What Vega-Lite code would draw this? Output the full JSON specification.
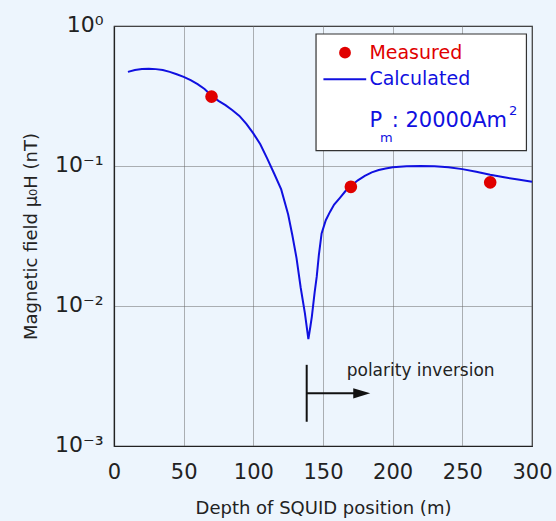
{
  "$schema": "https://vega.github.io/schema/vega-lite/v6.json",
  "width": 418,
  "height": 420,
  "autosize": "none",
  "padding": {"left": 114, "top": 26, "right": 24, "bottom": 75},
  "background": "#edf5fd",
  "config": {
    "font": "DejaVu Sans",
    "view": {"stroke": "#222", "strokeWidth": 1.2},
    "axis": {
      "domainColor": "#222",
      "domainWidth": 1.2,
      "gridColor": "#666",
      "gridDash": [1, 1],
      "gridWidth": 1,
      "tickColor": "#222",
      "labelColor": "#222",
      "titleColor": "#222",
      "labelFont": "DejaVu Sans",
      "titleFont": "DejaVu Sans",
      "titleFontWeight": "normal"
    }
  },
  "datasets": {
    "calc": [
      {"x": 10, "y": 0.47}, {"x": 15, "y": 0.485}, {"x": 20, "y": 0.493}, {"x": 25, "y": 0.495},
      {"x": 30, "y": 0.492}, {"x": 35, "y": 0.485}, {"x": 40, "y": 0.47}, {"x": 45, "y": 0.452},
      {"x": 50, "y": 0.433}, {"x": 55, "y": 0.41}, {"x": 60, "y": 0.384}, {"x": 65, "y": 0.355},
      {"x": 70, "y": 0.318}, {"x": 75, "y": 0.292}, {"x": 80, "y": 0.272}, {"x": 85, "y": 0.25},
      {"x": 90, "y": 0.228}, {"x": 95, "y": 0.2}, {"x": 100, "y": 0.171}, {"x": 105, "y": 0.143},
      {"x": 110, "y": 0.113}, {"x": 115, "y": 0.088}, {"x": 120, "y": 0.068}, {"x": 125, "y": 0.045},
      {"x": 128, "y": 0.032}, {"x": 131, "y": 0.022}, {"x": 134, "y": 0.0135}, {"x": 137, "y": 0.0089},
      {"x": 139.5, "y": 0.0058}, {"x": 141, "y": 0.0072}, {"x": 142, "y": 0.0084}, {"x": 144, "y": 0.0125},
      {"x": 145.5, "y": 0.0162}, {"x": 147, "y": 0.023}, {"x": 149, "y": 0.033}, {"x": 152, "y": 0.041},
      {"x": 155, "y": 0.047}, {"x": 158, "y": 0.053}, {"x": 162, "y": 0.059}, {"x": 166, "y": 0.066},
      {"x": 170, "y": 0.072}, {"x": 175, "y": 0.079}, {"x": 180, "y": 0.085}, {"x": 185, "y": 0.09},
      {"x": 190, "y": 0.0935}, {"x": 195, "y": 0.096}, {"x": 200, "y": 0.098}, {"x": 210, "y": 0.0995},
      {"x": 220, "y": 0.1}, {"x": 230, "y": 0.0995}, {"x": 240, "y": 0.098}, {"x": 250, "y": 0.095},
      {"x": 260, "y": 0.091}, {"x": 270, "y": 0.0865}, {"x": 280, "y": 0.083}, {"x": 290, "y": 0.08},
      {"x": 300, "y": 0.0773}
    ],
    "measured": [
      {"x": 70, "y": 0.313}, {"x": 170, "y": 0.071}, {"x": 270, "y": 0.0764}
    ]
  },
  "layer": [
    {
      "data": {"values": [{"x": 145, "x2": 296, "y": 0.877, "y2": 0.1286}]},
      "mark": {"type": "rect", "fill": "white", "stroke": "#333", "strokeWidth": 1.2},
      "encoding": {
        "x": {"field": "x", "type": "quantitative",
          "scale": {"domain": [0, 300], "nice": false, "zero": false},
          "axis": {"values": [0, 50, 100, 150, 200, 250, 300], "title": "Depth of SQUID position (m)",
            "labelFontSize": 21, "titleFontSize": 18, "labelPadding": 15, "titlePadding": 17,
            "ticks": false, "labelFlush": false}},
        "x2": {"field": "x2"},
        "y": {"field": "y", "type": "quantitative",
          "scale": {"type": "log", "domain": [0.001, 1], "nice": false},
          "axis": {"values": [0.001, 0.01, 0.1, 1], "title": "Magnetic field μ₀H (nT)",
            "labelExpr": "datum.value >= 1 ? '10⁰' : datum.value >= 0.1 ? '10⁻¹' : datum.value >= 0.01 ? '10⁻²' : '10⁻³'",
            "labelFontSize": 22, "titleFontSize": 18, "labelPadding": 11, "titlePadding": 14,
            "labelOffset": -2, "ticks": false, "labelFlush": false}},
        "y2": {"field": "y2"}
      }
    },
    {
      "data": {"name": "calc"},
      "mark": {"type": "line", "color": "#1010e0", "strokeWidth": 2},
      "encoding": {
        "x": {"field": "x", "type": "quantitative"},
        "y": {"field": "y", "type": "quantitative"}
      }
    },
    {
      "data": {"name": "measured"},
      "mark": {"type": "point", "filled": true, "color": "#e00000", "size": 160, "opacity": 1},
      "encoding": {
        "x": {"field": "x", "type": "quantitative"},
        "y": {"field": "y", "type": "quantitative"}
      }
    },
    {
      "data": {"values": [{"x": 165.8, "y": 0.645}]},
      "mark": {"type": "point", "filled": true, "color": "#e00000", "size": 140, "opacity": 1},
      "encoding": {
        "x": {"field": "x", "type": "quantitative"},
        "y": {"field": "y", "type": "quantitative"}
      }
    },
    {
      "data": {"values": [{"x": 150.3, "x2": 181, "y": 0.416}]},
      "mark": {"type": "rule", "color": "#1010e0", "strokeWidth": 2},
      "encoding": {
        "x": {"field": "x", "type": "quantitative"},
        "x2": {"field": "x2"},
        "y": {"field": "y", "type": "quantitative"}
      }
    },
    {
      "data": {"values": [{"x": 183.3, "y": 0.645, "label": "Measured"}]},
      "mark": {"type": "text", "align": "left", "baseline": "middle", "fontSize": 19, "color": "#e00000"},
      "encoding": {
        "x": {"field": "x", "type": "quantitative"},
        "y": {"field": "y", "type": "quantitative"},
        "text": {"field": "label"}
      }
    },
    {
      "data": {"values": [{"x": 183.3, "y": 0.416, "label": "Calculated"}]},
      "mark": {"type": "text", "align": "left", "baseline": "middle", "fontSize": 19, "color": "#1010e0"},
      "encoding": {
        "x": {"field": "x", "type": "quantitative"},
        "y": {"field": "y", "type": "quantitative"},
        "text": {"field": "label"}
      }
    },
    {
      "data": {"values": [{"x": 183.3, "y": 0.211, "label": "P"}, {"x": 199.3, "y": 0.211, "label": ": 20000Am"}]},
      "mark": {"type": "text", "align": "left", "baseline": "middle", "fontSize": 21, "color": "#1010e0"},
      "encoding": {
        "x": {"field": "x", "type": "quantitative"},
        "y": {"field": "y", "type": "quantitative"},
        "text": {"field": "label"}
      }
    },
    {
      "data": {"values": [{"x": 190.9, "y": 0.158, "label": "m"}, {"x": 283.5, "y": 0.246, "label": "2"}]},
      "mark": {"type": "text", "align": "left", "baseline": "middle", "fontSize": 13, "color": "#1010e0"},
      "encoding": {
        "x": {"field": "x", "type": "quantitative"},
        "y": {"field": "y", "type": "quantitative"},
        "text": {"field": "label"}
      }
    },
    {
      "data": {"values": [{"x": 138.3, "y": 0.0038, "y2": 0.00149}]},
      "mark": {"type": "rule", "color": "#111", "strokeWidth": 2},
      "encoding": {
        "x": {"field": "x", "type": "quantitative"},
        "y": {"field": "y", "type": "quantitative"},
        "y2": {"field": "y2"}
      }
    },
    {
      "data": {"values": [{"x": 138.3, "x2": 176, "y": 0.00238}]},
      "mark": {"type": "rule", "color": "#111", "strokeWidth": 2},
      "encoding": {
        "x": {"field": "x", "type": "quantitative"},
        "x2": {"field": "x2"},
        "y": {"field": "y", "type": "quantitative"}
      }
    },
    {
      "data": {"values": [{"x": 177.8, "y": 0.00238}]},
      "mark": {"type": "point", "shape": "M-1,-0.6L1,0L-1,0.6Z", "filled": true, "color": "#111", "size": 289, "opacity": 1},
      "encoding": {
        "x": {"field": "x", "type": "quantitative"},
        "y": {"field": "y", "type": "quantitative"}
      }
    },
    {
      "data": {"values": [{"x": 167, "y": 0.00345, "label": "polarity inversion"}]},
      "mark": {"type": "text", "align": "left", "baseline": "middle", "fontSize": 17, "color": "#222"},
      "encoding": {
        "x": {"field": "x", "type": "quantitative"},
        "y": {"field": "y", "type": "quantitative"},
        "text": {"field": "label"}
      }
    }
  ]
}
